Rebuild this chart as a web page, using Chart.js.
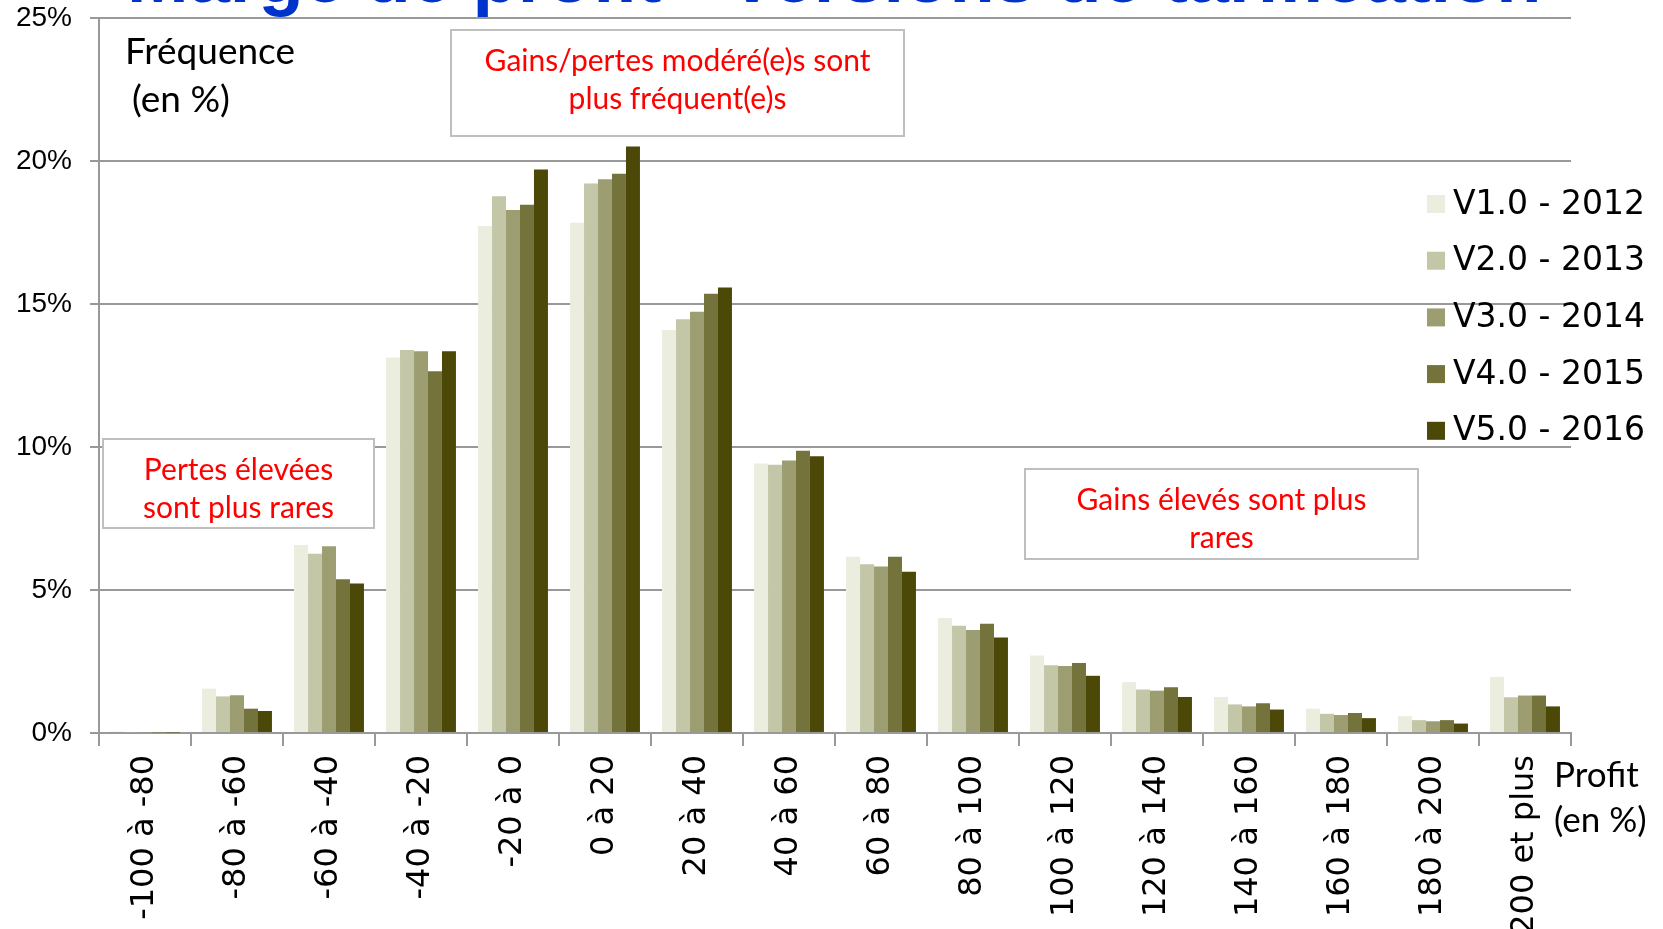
<!DOCTYPE html>
<html>
<head>
<meta charset="utf-8">
<script src="https://cdn.jsdelivr.net/npm/chart.js@4.4.1/dist/chart.umd.min.js"></script>
<style>
    html, body { margin: 0; padding: 0; background: #fff; overflow: hidden; }
    #wrap { width: 1663px; height: 929px; position: relative; }
</style>
</head>
<body>
<div id="wrap"><canvas id="chart"></canvas></div>
<script>
// Distribution de la marge de profit par version de tarification
const categories = ["-100 à -80", "-80 à -60", "-60 à -40", "-40 à -20", "-20 à 0", "0 à 20",
    "20 à 40", "40 à 60", "60 à 80", "80 à 100", "100 à 120", "120 à 140", "140 à 160",
    "160 à 180", "180 à 200", "200 et plus"];

const seriesNames = ["V1.0 - 2012", "V2.0 - 2013", "V3.0 - 2014", "V4.0 - 2015", "V5.0 - 2016"];
const seriesColors = ["#ebeedf", "#c4c6a8", "#9c9e72", "#74733c", "#4b4808"];

const v1 = [0.05, 1.55, 6.57, 13.13, 17.73, 17.84, 14.09, 9.42, 6.16, 4.02, 2.71, 1.78, 1.26, 0.85, 0.59, 1.96];
const v2 = [0.03, 1.28, 6.27, 13.39, 18.77, 19.21, 14.47, 9.38, 5.90, 3.75, 2.37, 1.52, 1.00, 0.67, 0.45, 1.25];
const v3 = [0.03, 1.32, 6.53, 13.35, 18.29, 19.36, 14.73, 9.53, 5.82, 3.60, 2.34, 1.48, 0.93, 0.63, 0.41, 1.31];
const v4 = [0.02, 0.85, 5.38, 12.65, 18.47, 19.55, 15.36, 9.87, 6.16, 3.82, 2.45, 1.60, 1.04, 0.70, 0.45, 1.31];
const v5 = [0.02, 0.77, 5.23, 13.35, 19.70, 20.51, 15.58, 9.68, 5.64, 3.34, 2.00, 1.26, 0.82, 0.52, 0.33, 0.93];

const yTicks = [0, 5, 10, 15, 20, 25];

const title = "Marge de profit - Versions de tarification";
const notes = [
    { lines: ["Gains/pertes modéré(e)s sont", "plus fréquent(e)s"], box: [451, 30, 904, 136] },
    { lines: ["Pertes élevées", "sont plus rares"], box: [103, 439, 374, 528] },
    { lines: ["Gains élevés sont plus", "rares"], box: [1025, 469, 1418, 559] }
];

const canvas = document.getElementById('chart');
canvas.width = 1663;
canvas.height = 929;

const gridColor = "#999999";

const extras = {
    id: 'extras',
    afterDraw(chart) {
        const ctx = chart.ctx;
        ctx.save();

        // titre (coupé en haut de l'image)
        ctx.fillStyle = "#0033cc";
        ctx.font = "bold 74px 'Liberation Sans', Arial, sans-serif";
        ctx.textAlign = "left";
        ctx.textBaseline = "alphabetic";
        ctx.fillText(title, 127, 2);

        // encadrés
        ctx.font = "30px Lato, 'Open Sans', sans-serif";
        ctx.textAlign = "center";
        ctx.textBaseline = "middle";
        notes.forEach(n => {
            const [x1, y1, x2, y2] = n.box;
            ctx.fillStyle = "#fff";
            ctx.fillRect(x1, y1, x2 - x1, y2 - y1);
            ctx.strokeStyle = "#bfbfbf";
            ctx.lineWidth = 2;
            ctx.strokeRect(x1, y1, x2 - x1, y2 - y1);
            ctx.fillStyle = "#ff0000";
            const cx = (x1 + x2) / 2;
            ctx.fillText(n.lines[0], cx, y1 + 31);
            ctx.fillText(n.lines[1], cx, y1 + 69);
        });

        // titres des axes
        ctx.fillStyle = "#000";
        ctx.textAlign = "left";
        ctx.font = "37px Lato, 'Open Sans', sans-serif";
        ctx.fillText("Fréquence", 125, 52);
        ctx.fillText("(en %)", 132, 100);
        ctx.font = "35px Lato, 'Open Sans', sans-serif";
        ctx.fillText("Profit", 1554, 776);
        ctx.fillText("(en %)", 1554, 821);

        // légende
        ctx.font = "33px 'DejaVu Sans', Verdana, sans-serif";
        chart.data.datasets.forEach((ds, i) => {
            const cy = 204 + i * 56.7;
            ctx.fillStyle = ds.backgroundColor;
            ctx.fillRect(1427, cy - 9, 18, 18);
            ctx.fillStyle = "#000";
            ctx.fillText(ds.label, 1453, cy + 1);
        });
        ctx.restore();
    }
};

const chartData = {
    labels: categories,
    datasets: [v1, v2, v3, v4, v5].map((values, i) => ({
        label: seriesNames[i],
        data: values,
        backgroundColor: seriesColors[i],
        borderWidth: 0,
        categoryPercentage: 0.76,
        barPercentage: 1.0
    }))
};

const chartOptions = {
    responsive: false,
    animation: false,
    devicePixelRatio: 1,
    layout: { padding: { top: 18, right: 92, left: 0, bottom: 0 } },
    plugins: {
        legend: { display: false },
        tooltip: { enabled: false }
    },
    scales: {
        x: {
            offset: true,
            grid: {
                offset: true,
                drawOnChartArea: false,
                drawTicks: true,
                tickLength: 13,
                color: gridColor,
                lineWidth: 2
            },
            border: { color: gridColor, width: 2 },
            ticks: {
                autoSkip: false,
                minRotation: 90,
                maxRotation: 90,
                padding: 9,
                color: "#000",
                font: { family: "'DejaVu Sans', Verdana, sans-serif", size: 32 }
            },
            afterFit(scale) { scale.height = 196; }
        },
        y: {
            min: 0,
            max: 25,
            afterBuildTicks(scale) { scale.ticks = yTicks.map(v => ({ value: v })); },
            grid: {
                color: gridColor,
                lineWidth: 2,
                tickLength: 9
            },
            border: { color: gridColor, width: 2 },
            ticks: {
                padding: 18,
                color: "#000",
                font: { family: "'Liberation Sans', Arial, sans-serif", size: 28 },
                callback: function (value) { return value + '%'; }
            },
            afterFit(scale) {
                scale.width = 99;
                scale.paddingTop = 0;
            }
        }
    }
};

new Chart(canvas, {
    type: 'bar',
    data: chartData,
    options: chartOptions,
    plugins: [extras]
});
</script>
</body>
</html>
